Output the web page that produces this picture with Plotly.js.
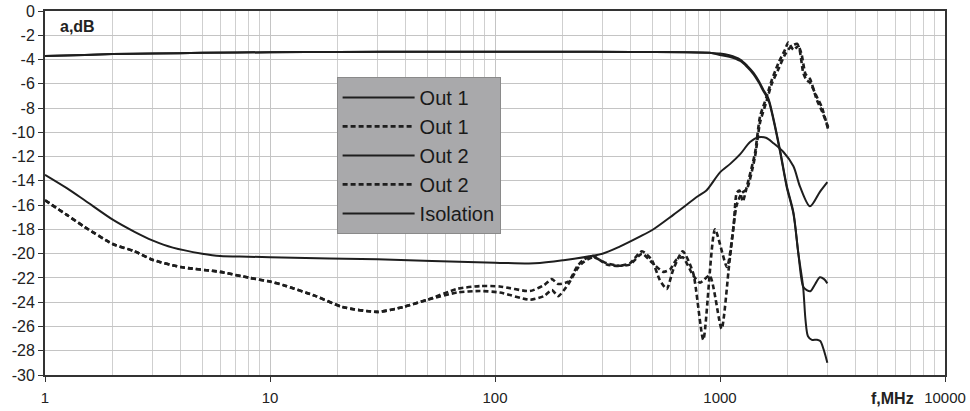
<!DOCTYPE html>
<html>
<head>
<meta charset="utf-8">
<script src="https://cdn.plot.ly/plotly-3.0.1.min.js"></script>
<style>html,body{margin:0;padding:0;background:#fff;}#chart{width:970px;height:411px;}</style>
</head>
<body>
<div id="chart"></div>
<script>
// ---- data (frequency in MHz, attenuation in dB) ----
const fTop = [1, 1.5, 2, 3, 5, 10, 20, 50, 100, 200, 400, 700, 900, 1000, 1100, 1230, 1320, 1410, 1490, 1560, 1640, 1730, 1850, 1980, 2120, 2230, 2340];
const topVals = [-3.7, -3.62, -3.55, -3.5, -3.45, -3.4, -3.38, -3.35, -3.35, -3.35, -3.37, -3.4, -3.45, -3.5, -3.65, -4.0, -4.5, -5.1, -5.8, -6.5, -7.2, -8.9, -11.5, -14.4, -16.6, -20.0, -22.7];

const fOut1Tail = [2400, 2460, 2560, 2700, 2790, 2900, 3000];
const out1Tail = [-25.5, -26.8, -27.1, -27.1, -27.2, -28.0, -29.0];
const fOut2Tail = [2430, 2520, 2650, 2780, 2900, 3000];
const out2Tail = [-23.0, -23.1, -22.5, -21.95, -22.1, -22.45];

const fIso = [1, 1.25, 1.5, 2, 2.5, 3, 3.7, 5, 6, 8, 10, 30, 100, 150, 200, 300, 360, 440, 500, 620, 800, 870, 1000, 1110, 1230, 1360, 1480, 1600, 1730, 1910, 2120, 2270, 2510, 2780, 3000];
const isoVals = [-13.5, -14.6, -15.6, -17.2, -18.2, -18.9, -19.5, -20.0, -20.2, -20.25, -20.3, -20.47, -20.74, -20.8, -20.55, -20.0, -19.4, -18.6, -18.05, -16.8, -15.25, -14.8, -13.3, -12.6, -11.8, -10.8, -10.4, -10.45, -10.9, -11.6, -12.8, -14.5, -16.1, -14.9, -14.1];

const fD1 = [1, 1.25, 1.5, 2, 2.5, 3, 4, 6, 8.15, 10, 11.5, 16, 21, 30, 39, 50, 68, 86, 105, 143, 165, 179, 191, 212, 231, 247, 273, 314, 359, 398, 450, 497, 541, 580, 620, 683, 760, 843, 950, 1074, 1148, 1186, 1220, 1263, 1315, 1431, 1506, 1612, 1698, 1817, 1944, 2012, 2119, 2230, 2344, 2425, 2512, 2690, 2831, 3029];
const d1Vals = [-15.6, -16.8, -17.8, -19.2, -19.8, -20.5, -21.1, -21.5, -22.0, -22.3, -22.6, -23.5, -24.4, -24.8, -24.4, -23.8, -22.9, -22.67, -22.7, -23.08, -22.6, -22.1, -22.5, -22.3, -21.1, -20.5, -20.2, -20.9, -21.0, -20.8, -19.8, -20.5, -22.2, -22.9, -21.3, -19.8, -21.6, -27.1, -18.0, -21.1, -17.8, -15.0, -14.8, -15.7, -14.5, -11.7, -8.7, -7.06, -5.7, -4.3, -3.2, -2.6, -3.2, -2.9, -5.1, -5.7, -5.9, -7.06, -7.9, -9.8];

const fD2 = [1, 1.25, 1.5, 2, 2.5, 3, 4, 6, 8.15, 10, 11.5, 16, 21, 30, 39, 50, 68, 86, 105, 143, 165, 179, 191, 212, 231, 247, 273, 314, 359, 398, 450, 497, 560, 600, 640, 683, 760, 815, 900, 1016, 1100, 1186, 1250, 1315, 1431, 1506, 1612, 1698, 1817, 1944, 2050, 2200, 2300, 2400, 2512, 2690, 2831, 3029];
const d2Vals = [-15.6, -16.8, -17.8, -19.2, -19.8, -20.5, -21.1, -21.5, -22.0, -22.3, -22.6, -23.5, -24.4, -24.8, -24.4, -23.8, -23.2, -23.08, -23.2, -23.8, -23.5, -23.0, -23.5, -22.5, -21.3, -20.7, -20.3, -20.8, -21.0, -20.9, -20.0, -20.7, -21.5, -21.3, -20.5, -20.3, -21.8, -22.4, -21.8, -26.2, -20.8, -16.0, -15.0, -14.7, -12.0, -9.2, -7.4, -6.0, -4.8, -3.6, -3.0, -2.7, -3.5, -5.2, -5.6, -7.3, -8.2, -9.6];

const legendNames = ['Out 1', 'Out 1', 'Out 2', 'Out 2', 'Isolation'];
const xTickVals = [1, 10, 100, 1000, 10000];
const xTickText = ['1', '10', '100', '1000', '10000'];
const yTickVals = [-30, -28, -26, -24, -22, -20, -18, -16, -14, -12, -10, -8, -6, -4, -2, 0];
const yTickText = ['-30', '-28', '-26', '-24', '-22', '-20', '-18', '-16', '-14', '-12', '-10', '-8', '-6', '-4', '-2', '0'];
const yTitle = 'a,dB';
const xTitle = 'f,MHz';

// ---- build traces ----
const out1X = fTop.concat(fOut1Tail), out1Y = topVals.concat(out1Tail);
const out2X = fTop.concat(fOut2Tail), out2Y = topVals.map((v, i) => (i >= 13 && i < fTop.length - 2) ? v - 0.12 : v).concat(out2Tail);

const ink = '#1e1e1e';
const solid = {color: ink, width: 2, shape: 'spline', smoothing: 0.8};
const dashed = {color: ink, width: 2.6, dash: '5px,3px', shape: 'spline', smoothing: 0.6};

const traces = [
  {x: out1X, y: out1Y, name: legendNames[0], legendgroup: 'a', mode: 'lines', line: solid},
  {x: fD1, y: d1Vals, name: legendNames[1], legendgroup: 'b', mode: 'lines', line: dashed},
  {x: out2X, y: out2Y, name: legendNames[2], legendgroup: 'c', mode: 'lines', line: solid},
  {x: fD2, y: d2Vals, name: legendNames[3], legendgroup: 'd', mode: 'lines', line: dashed},
  {x: fIso, y: isoVals, name: legendNames[4], legendgroup: 'e', mode: 'lines', line: solid}
];

const fontFam = 'Liberation Sans, Arial, Helvetica, sans-serif';
const layout = {
  width: 970, height: 411,
  margin: {l: 45, r: 25, t: 11, b: 36, pad: 0},
  paper_bgcolor: '#ffffff', plot_bgcolor: '#ffffff',
  font: {family: fontFam, color: '#222'},
  showlegend: true,
  legend: {
    x: 0.324, y: 0.819, xanchor: 'left', yanchor: 'top',
    bgcolor: '#a9a9ab', bordercolor: '#8a8a8a', borderwidth: 1,
    font: {family: fontFam, size: 20, color: '#1a1a1a'},
    tracegroupgap: 0, itemwidth: 72
  },
  xaxis: {
    type: 'log', range: [0, 4], autorange: false,
    tickmode: 'array', tickvals: xTickVals, ticktext: xTickText,
    ticks: 'outside', ticklen: 5, tickwidth: 1, tickcolor: '#333',
    tickfont: {size: 15, family: fontFam, color: '#222'},
    ticklabelstandoff: 3,
    showgrid: true, gridcolor: '#c4c4c4', gridwidth: 1,
    minor: {dtick: 'D1', showgrid: true, gridcolor: '#cfcfcf', gridwidth: 1, ticks: ''},
    showline: true, linecolor: '#333', linewidth: 2, mirror: true,
    zeroline: false
  },
  yaxis: {
    range: [-30, 0], autorange: false,
    tickmode: 'array', tickvals: yTickVals, ticktext: yTickText,
    ticks: 'outside', ticklen: 5, tickwidth: 1, tickcolor: '#333',
    tickfont: {size: 16, family: fontFam, color: '#222'},
    showgrid: true, gridcolor: '#c4c4c4', gridwidth: 1,
    showline: true, linecolor: '#333', linewidth: 2, mirror: true,
    zeroline: false
  },
  annotations: [
    {text: '<b>' + yTitle + '</b>', xref: 'paper', yref: 'paper', x: 0.014, y: 0.985, xanchor: 'left', yanchor: 'top', showarrow: false, font: {size: 16, family: fontFam, color: '#222'}},
    {text: '<b>' + xTitle + '</b>', xref: 'paper', yref: 'paper', x: 0.942, y: -0.065, xanchor: 'center', yanchor: 'middle', showarrow: false, font: {size: 16, family: fontFam, color: '#222'}}
  ]
};

Plotly.newPlot('chart', traces, layout, {staticPlot: true, displayModeBar: false});
</script>
</body>
</html>
